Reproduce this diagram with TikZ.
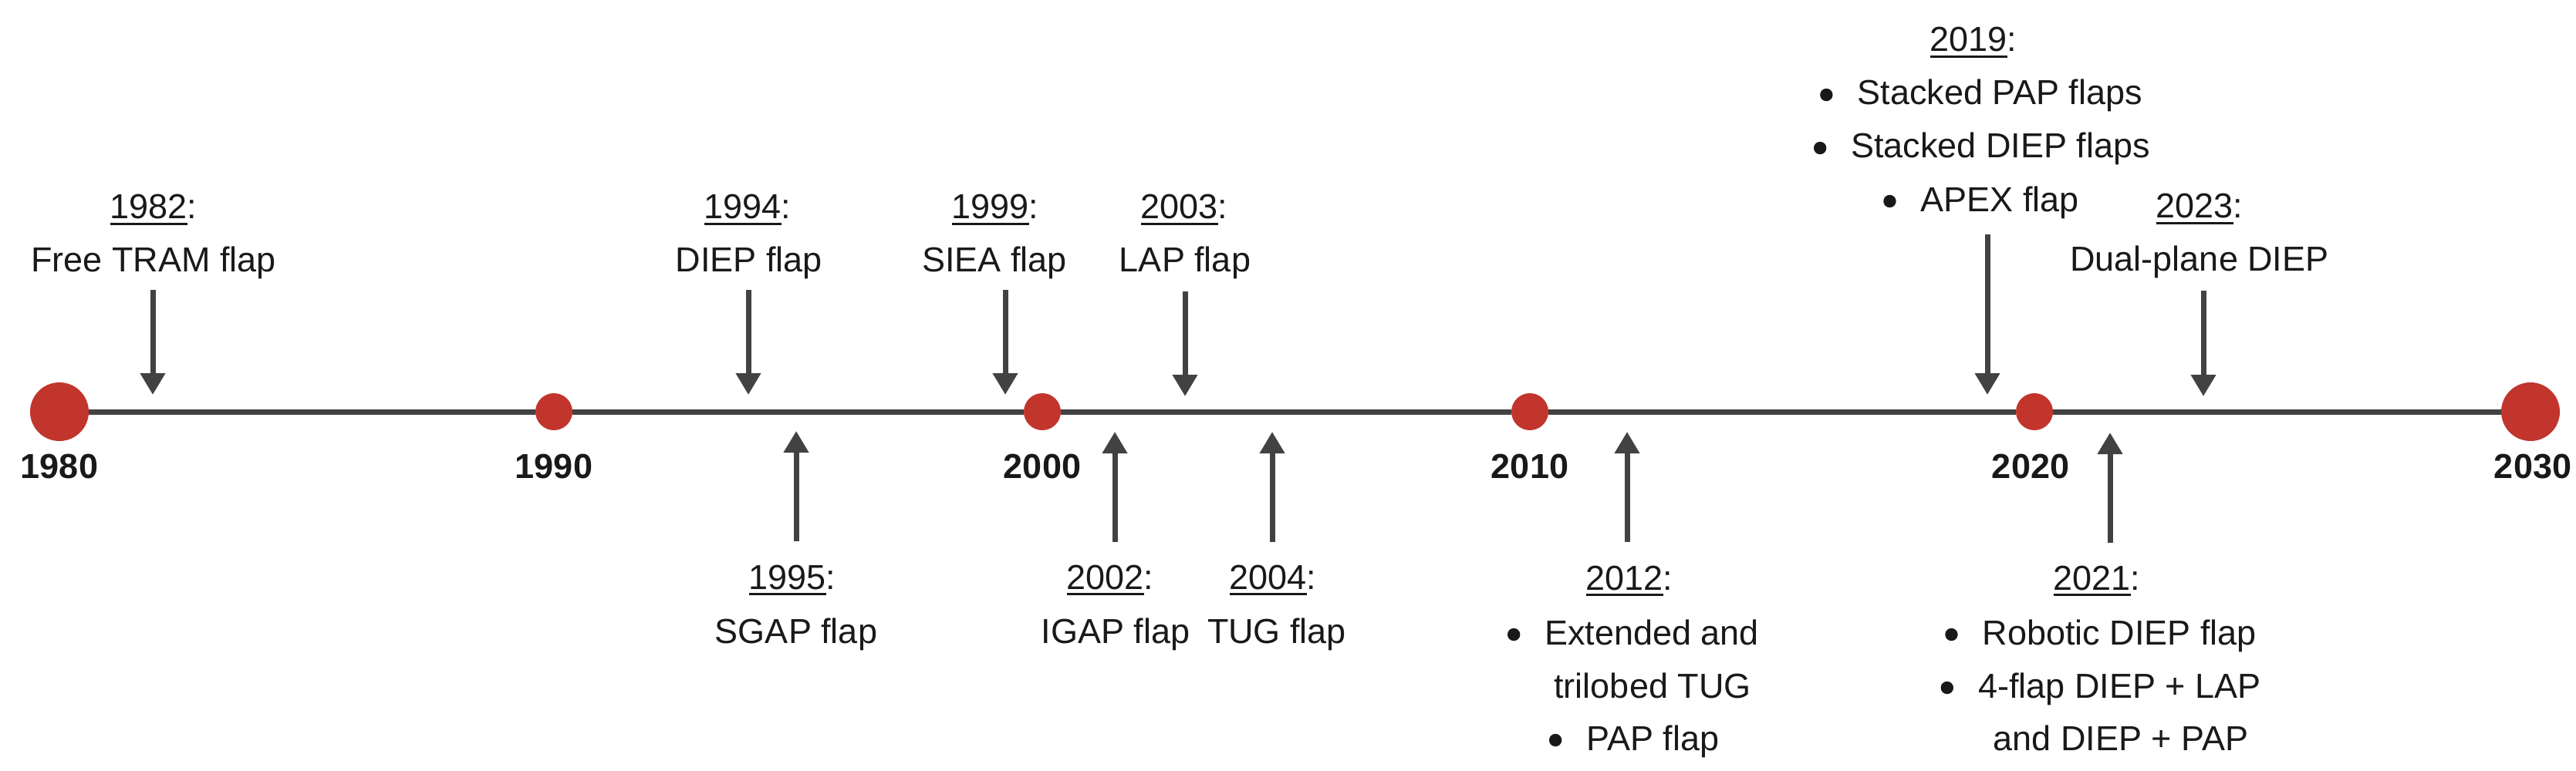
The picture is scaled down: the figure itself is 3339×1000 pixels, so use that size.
\documentclass[tikz,border=0pt]{standalone}
\usepackage{fontspec}
\setmainfont{Liberation Sans}
\usetikzlibrary{arrows.meta}
\definecolor{dotred}{RGB}{193,53,45}
\definecolor{linegray}{RGB}{66,66,66}
\definecolor{txtblack}{RGB}{25,25,25}
\newcommand\yul[1]{\setbox0\hbox{#1}\rlap{\rule[-4pt]{\wd0}{1.5pt}}\box0}
\newcommand\tlbul{\raisebox{6.5pt}{\tikz[baseline=0pt]\fill[txtblack] (0,0) circle[radius=4.1pt];}\hspace{16pt}}
\begin{document}
\begin{tikzpicture}[x=0.5pt,y=-0.5pt,
  txt/.style={anchor=base, inner sep=0pt, text=txtblack, font=\fontsize{22.5pt}{27pt}\selectfont},
  yr/.style={anchor=base, inner sep=0pt, text=txtblack, font=\fontsize{22.5pt}{27pt}\selectfont\bfseries},
  bigdot/.style={circle, fill=dotred, minimum size=38pt, inner sep=0pt},
  smalldot/.style={circle, fill=dotred, minimum size=24pt, inner sep=0pt},
  tline/.style={draw=linegray, line width=3.5pt},
  arr/.style={draw=linegray, line width=3.5pt, -{Triangle[width=15.5pt,length=14pt]}},
]
\useasboundingbox (0,0) rectangle (3339,1000);

% timeline dots
\node[bigdot]   (c1980) at (77,534) {};
\node[smalldot] (c1990) at (718,534) {};
\node[smalldot] (c2000) at (1351,534) {};
\node[smalldot] (c2010) at (1983,534) {};
\node[smalldot] (c2020) at (2637,534) {};
\node[bigdot]   (c2030) at (3280,534) {};
\draw[tline] (c1980) -- (c1990) -- (c2000) -- (c2010) -- (c2020) -- (c2030);

% decade labels
\node[yr] (l1980) at (77,620) {1980};
\node[yr] (l1990) at (718,620) {1990};
\node[yr] (l2000) at (1351,620) {2000};
\node[yr] (l2010) at (1983,620) {2010};
\node[yr] (l2020) at (2632,620) {2020};
\node[yr] (l2030) at (3283,620) {2030};

% upper events
\node[txt] (y1982) at (199,284) {\yul{1982}:};
\node[txt] (t1982) at (199,352) {Free TRAM flap};
\node[txt] (y1994) at (969,284) {\yul{1994}:};
\node[txt] (t1994) at (971,352) {DIEP flap};
\node[txt] (y1999) at (1290,284) {\yul{1999}:};
\node[txt] (t1999) at (1289,352) {SIEA flap};
\node[txt] (y2003) at (1535,284) {\yul{2003}:};
\node[txt] (t2003) at (1536,352) {LAP flap};
\node[txt] (y2019) at (2558,67) {\yul{2019}:};
\node[txt] (t2019a) at (2568,136) {\tlbul Stacked PAP flaps};
\node[txt] (t2019b) at (2569,205) {\tlbul Stacked DIEP flaps};
\node[txt] (t2019c) at (2568,274) {\tlbul APEX flap};
\node[txt] (y2023) at (2851,283) {\yul{2023}:};
\node[txt] (t2023) at (2851,351) {Dual-plane DIEP};

% lower events
\node[txt] (y1995) at (1027,764) {\yul{1995}:};
\node[txt] (t1995) at (1032,834) {SGAP flap};
\node[txt] (y2002) at (1439,764) {\yul{2002}:};
\node[txt] (t2002) at (1446,834) {IGAP flap};
\node[txt] (y2004) at (1650,764) {\yul{2004}:};
\node[txt] (t2004) at (1655,834) {TUG flap};
\node[txt] (y2012) at (2112,765) {\yul{2012}:};
\node[txt] (t2012a) at (2117,836) {\tlbul Extended and};
\node[txt] (t2012b) at (2142,905) {trilobed TUG};
\node[txt] (t2012c) at (2118,973) {\tlbul PAP flap};
\node[txt] (y2021) at (2718,765) {\yul{2021}:};
\node[txt] (t2021a) at (2723,836) {\tlbul Robotic DIEP flap};
\node[txt] (t2021b) at (2723,905) {\tlbul 4-flap DIEP + LAP};
\node[txt] (t2021c) at (2749,973) {and DIEP + PAP};

% arrow end points
\coordinate (s1982) at (198,376);  \coordinate (e1982) at (198,512);
\coordinate (s1994) at (970,376);  \coordinate (e1994) at (970,512);
\coordinate (s1999) at (1303,376); \coordinate (e1999) at (1303,512);
\coordinate (s2003) at (1536,378); \coordinate (e2003) at (1536,514);
\coordinate (s2019) at (2576,304); \coordinate (e2019) at (2576,512);
\coordinate (s2023) at (2856,377); \coordinate (e2023) at (2856,514);
\coordinate (s1995) at (1032,702); \coordinate (e1995) at (1032,559);
\coordinate (s2002) at (1445,703); \coordinate (e2002) at (1445,560);
\coordinate (s2004) at (1649,703); \coordinate (e2004) at (1649,560);
\coordinate (s2012) at (2109,703); \coordinate (e2012) at (2109,560);
\coordinate (s2021) at (2735,704); \coordinate (e2021) at (2735,561);

\foreach \k in {1982,1994,1999,2003,2019,2023,1995,2002,2004,2012,2021}
  \draw[arr] (s\k) -- (e\k);
\end{tikzpicture}
\end{document}
